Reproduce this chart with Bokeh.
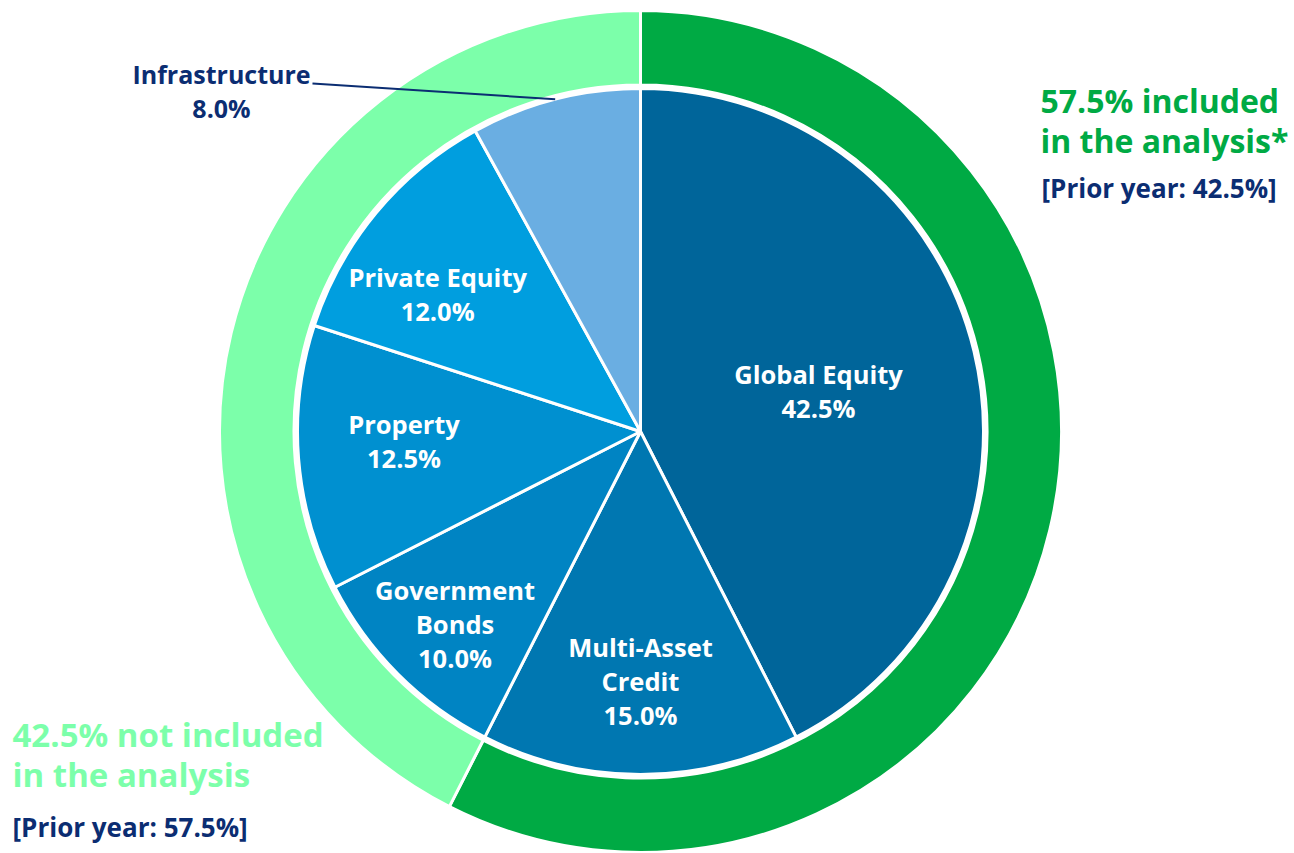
import numpy as np
from bokeh.plotting import figure
from bokeh.models import Range1d
from bokeh.embed import file_html
from bokeh.resources import INLINE
from bokeh.core.properties import value

# ---------------- data ----------------
categories = ["Global Equity", "Multi-Asset Credit", "Government Bonds",
              "Property", "Private Equity", "Infrastructure"]
label_text = ["Global Equity", "Multi-Asset\nCredit", "Government\nBonds",
              "Property", "Private Equity", "Infrastructure"]
shares = [42.5, 15.0, 10.0, 12.5, 12.0, 8.0]

ring_groups = ["included in the analysis*", "not included\nin the analysis"]
ring_shares = [57.5, 42.5]
prior_year = [42.5, 57.5]

# ---------------- styles ----------------
pie_colors = ["#00659A", "#0077B1", "#0084C3", "#0090D0", "#009EDF", "#6AAEE2"]
ring_colors = ["#00AA44", "#7CFFAA"]
navy = "#0B2D72"
FONT = value("Open Sans")

# label placement (radius fraction, angle tweak in degrees)
label_rfrac = [0.532, 0.727, 0.78, 0.69, 0.715]
label_tweak = [-0.8, 0.0, 1.1, -2.3, 5.4]

cx, cy = 640.0, -431.0
R_PIE = 343.0
R_RING_IN = 346.5
R_RING_OUT = 421.0

W, H = 1294, 853
p = figure(width=W, height=H,
           x_range=Range1d(0, W), y_range=Range1d(-H, 0),
           output_backend="svg", toolbar_location=None, min_border=0)
p.axis.visible = False
p.grid.visible = False
p.outline_line_color = None
p.background_fill_color = "white"
p.border_fill_color = "white"


def angles(vals):
    tot = float(sum(vals))
    cum = np.concatenate([[0.0], np.cumsum(vals)]) / tot
    start = np.pi / 2 - 2 * np.pi * cum[:-1]
    end = np.pi / 2 - 2 * np.pi * cum[1:]
    return start, end


# outer ring
rs, re = angles(ring_shares)
p.annular_wedge(x=cx, y=cy, inner_radius=R_RING_IN, outer_radius=R_RING_OUT,
                start_angle=list(rs), end_angle=list(re), direction="clock",
                fill_color=ring_colors, line_color="white", line_width=3)

# pie
ps, pe = angles(shares)
p.wedge(x=cx, y=cy, radius=R_PIE, start_angle=list(ps), end_angle=list(pe),
        direction="clock", fill_color=pie_colors, line_color="white", line_width=3)

# inner labels
mids = (ps + pe) / 2
lx, ly, lt = [], [], []
for i in range(5):
    a = mids[i] + np.deg2rad(label_tweak[i])
    r = label_rfrac[i] * R_PIE
    lx.append(cx + r * np.cos(a))
    ly.append(cy + r * np.sin(a))
    lt.append(f"{label_text[i]}\n{shares[i]:.1f}%")
p.text(x=lx, y=ly, text=lt, text_color="white", text_font=FONT,
       text_font_style="bold", text_font_size="25.5px", text_align="center",
       text_baseline="middle", text_line_height=1.0)

# infrastructure: outside label with leader line
a = mids[5]
ex, ey = cx + R_PIE * np.cos(a), cy + R_PIE * np.sin(a)
p.line(x=[312, ex], y=[-83, ey], line_color=navy, line_width=2)
p.text(x=[221], y=[-90], text=[f"{label_text[5]}\n{shares[5]:.1f}%"],
       text_color=navy, text_font=FONT, text_font_style="bold",
       text_font_size="25px", text_align="center", text_baseline="middle",
       text_line_height=1.0)

# ring annotations
p.text(x=[1040], y=[-120],
       text=[f"{ring_shares[0]:.1f}% included\nin the analysis*"],
       text_color=ring_colors[0], text_font=FONT, text_font_style="bold",
       text_font_size="32px", text_align="left", text_baseline="middle",
       text_line_height=0.92)
p.text(x=[1041], y=[-187], text=[f"[Prior year: {prior_year[0]:.1f}%]"],
       text_color=navy, text_font=FONT, text_font_style="bold",
       text_font_size="26px", text_align="left", text_baseline="middle")

p.text(x=[12], y=[-754],
       text=[f"{ring_shares[1]:.1f}% not included\nin the analysis"],
       text_color=ring_colors[1], text_font=FONT, text_font_style="bold",
       text_font_size="33px", text_align="left", text_baseline="middle",
       text_line_height=0.89)
p.text(x=[12], y=[-826], text=[f"[Prior year: {prior_year[1]:.1f}%]"],
       text_color=navy, text_font=FONT, text_font_style="bold",
       text_font_size="26px", text_align="left", text_baseline="middle")

open("out.html", "w").write(file_html(p, INLINE))
